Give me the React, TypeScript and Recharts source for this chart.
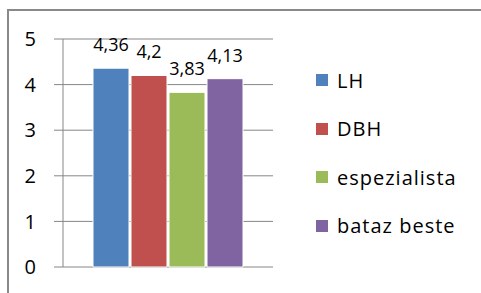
import React from 'react';
import { Bar, BarChart, CartesianGrid, LabelList, XAxis, YAxis } from 'recharts';

// Chart values
const categories = [''];
const seriesNames = ['LH', 'DBH', 'espezialista', 'bataz beste'];
const seriesValues = [4.36, 4.2, 3.83, 4.13];
const seriesColors = ['#4F81BD', '#C0504D', '#9BBB59', '#8064A2'];
const yTicks = [0, 1, 2, 3, 4, 5];

const data = categories.map((name) => {
  const row: Record<string, string | number> = { name };
  seriesNames.forEach((s, i) => {
    row[s] = seriesValues[i];
  });
  return row;
});

const FONT = '"Open Sans", sans-serif';
const GRID = '#868686';

const formatLabel = (v: any) => String(v).replace('.', ',');

const App: React.FC = () => {
  return (
    <div
      style={{
        position: 'absolute',
        left: 0,
        top: 0,
        width: 481,
        height: 293,
        background: '#fff',
        overflow: 'hidden',
        fontFamily: FONT,
      }}
    >
      <div
        style={{
          position: 'absolute',
          left: 7,
          top: 9,
          width: 500,
          height: 320,
          border: '2px solid #898989',
        }}
      />
      <BarChart
        width={481}
        height={293}
        data={data}
        margin={{ top: 39, right: 208, bottom: 26, left: 0 }}
        barGap={2}
        barSize={36}
      >
        <CartesianGrid vertical={false} stroke={GRID} strokeWidth={1} />
        <XAxis
          dataKey="name"
          axisLine={{ stroke: GRID }}
          tickLine={false}
          tick={false}
          height={0}
        />
        <YAxis
          width={63}
          domain={[0, 5]}
          ticks={yTicks}
          interval={0}
          axisLine={{ stroke: GRID }}
          tickLine={{ stroke: GRID }}
          tickSize={9}
          tickMargin={18}
          tick={{ fontSize: 20, fill: '#000', fontFamily: FONT }}
        />
        {seriesNames.map((s, i) => (
          <Bar
            key={s}
            dataKey={s}
            fill={seriesColors[i]}
            stroke="#fff"
            strokeWidth={1}
            isAnimationActive={false}
          >
            <LabelList
              dataKey={s}
              position="top"
              offset={17}
              formatter={formatLabel}
              style={{ fontSize: 18, fill: '#000', fontFamily: FONT }}
            />
          </Bar>
        ))}
      </BarChart>
      <div style={{ position: 'absolute', left: 316, top: 56 }}>
        {seriesNames.map((s, i) => (
          <div key={s} style={{ height: 48.5, display: 'flex', alignItems: 'center' }}>
            <span
              style={{
                display: 'inline-block',
                width: 12,
                height: 12,
                background: seriesColors[i],
                marginRight: 9,
              }}
            />
            <span style={{ fontSize: 20, color: '#000', letterSpacing: 1 }}>{s}</span>
          </div>
        ))}
      </div>
    </div>
  );
};

export default App;
